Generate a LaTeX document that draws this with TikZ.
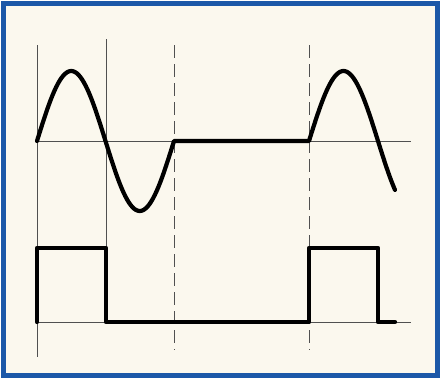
\documentclass[tikz,border=0pt]{standalone}
\usepackage{tikz}
\definecolor{frameblue}{RGB}{28,88,168}
\definecolor{paper}{RGB}{251,248,238}
\definecolor{axisgray}{RGB}{80,80,80}
\begin{document}
\begin{tikzpicture}[x=1pt,y=-1pt,
  axis/.style={draw=axisgray,line width=0.9pt},
  marker/.style={draw=axisgray,line width=0.9pt,dash pattern=on 13pt off 6pt},
  wave/.style={draw=black,line width=4.2pt,line join=round,line cap=round}]
\useasboundingbox (0,0) rectangle (442,380);
\fill[white] (0,0) rectangle (442,380);
\fill[paper] (3.5,3.5) rectangle (437.5,375.5);
\draw[frameblue,line width=5pt] (3.5,3.5) rectangle (437.5,375.5);
% named coordinates
\coordinate (o1) at (37,141);
\coordinate (o2) at (37,322);
% vertical guide lines
\draw[axis] (37,45) -- (37,357);
\draw[axis] (106,39) -- (106,248);
\draw[marker] (174,45) -- (174,350);
\draw[marker] (309,45) -- (309,350);
% horizontal axes
\draw[axis] (o1) -- (411,141);
\draw[axis] (o2) -- (411,322);
% sine wave
\draw[wave] plot[domain=37:174,samples=80,smooth] (\x,{141-70*sin((\x-37)/68.5*180)})
  -- (309,141)
  -- plot[domain=309:395,samples=60,smooth] (\x,{141-70*sin((\x-309)/69*180)});
% square wave
\draw[wave] (37,322) -- (37,248) -- (106,248) -- (106,322) -- (309,322) -- (309,248) -- (378,248) -- (378,322) -- (395,322);
\end{tikzpicture}
\end{document}
